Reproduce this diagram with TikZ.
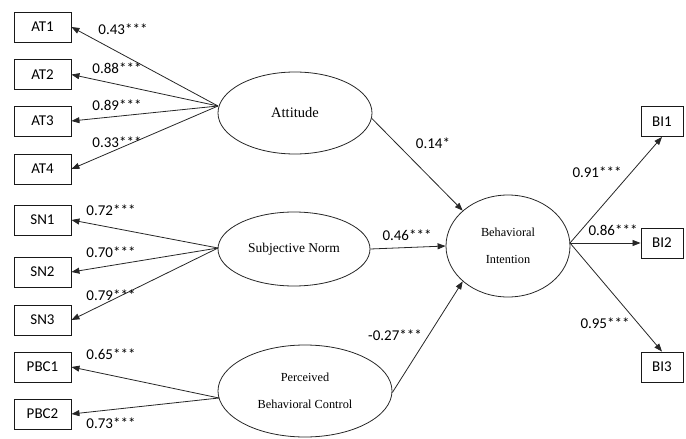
\documentclass[tikz,border=0pt]{standalone}
\usepackage{fontspec}
\setmainfont{Liberation Serif}
\newfontfamily\labelfont{Carlito}
\usetikzlibrary{shapes.geometric,arrows.meta}
\begin{document}
\begin{tikzpicture}[x=1pt,y=-1pt,
  item/.style={draw=black!90,line width=0.9pt,minimum width=57pt,minimum height=30pt,inner sep=0pt,font=\labelfont\fontsize{15}{18}\selectfont},
  bibox/.style={item,minimum width=42pt},
  latent/.style={draw=black!85,line width=0.8pt,ellipse,inner sep=0pt,align=center},
  path/.style={draw=black!85,line width=0.8pt,-{Triangle[length=8pt,width=6pt]}},
  coef/.style={font=\labelfont\fontsize{15}{18}\selectfont,inner sep=0pt}]
\useasboundingbox (0,0) rectangle (686,439);

% observed indicators
\node[item] (AT1) at (42.5,27) {AT1};
\node[item] (AT2) at (42.5,74.5) {AT2};
\node[item] (AT3) at (42.5,121) {AT3};
\node[item] (AT4) at (42.5,169) {AT4};
\node[item] (SN1) at (42.5,220) {SN1};
\node[item] (SN2) at (42.5,272) {SN2};
\node[item] (SN3) at (42.5,320) {SN3};
\node[item] (PBC1) at (42.5,367) {PBC1};
\node[item] (PBC2) at (42.5,414) {PBC2};
\node[bibox] (BI1) at (662,121.5) {BI1};
\node[bibox] (BI2) at (662,243) {BI2};
\node[bibox] (BI3) at (662,367) {BI3};

% latent constructs
\node[latent,minimum width=154pt,minimum height=82pt,font=\fontsize{14.5}{17}\selectfont] (ATT) at (295,113) {Attitude};
\node[latent,minimum width=152pt,minimum height=74pt,font=\fontsize{13.5}{16}\selectfont] (SN) at (294,249) {Subjective Norm};
\node[latent,minimum width=174pt,minimum height=92pt,font=\fontsize{12.3}{15}\selectfont] (PBC) at (305,391) {Perceived\\[12pt]Behavioral Control};
\node[latent,minimum width=124pt,minimum height=102pt,font=\fontsize{12.3}{15}\selectfont] (BI) at (508,246) {Behavioral\\[12pt]Intention};

% loading origins
\coordinate (attL) at (218,106);
\coordinate (snL) at (218,248);
\coordinate (pbcL) at (219,398);
\coordinate (biR) at (570,243);

% measurement paths
\foreach \t in {AT1,AT2,AT3,AT4} \draw[path] (attL) -- (\t.east);
\foreach \t in {SN1,SN2,SN3} \draw[path] (snL) -- (\t.east);
\foreach \t in {PBC1,PBC2} \draw[path] (pbcL) -- (\t.east);
\draw[path] (biR) -- (BI1.south);
\draw[path] (biR) -- (BI2.west);
\draw[path] (biR) -- (BI3.north);

% structural paths
\draw[path] (ATT.-4) -- (BI.142);
\draw[path] (SN.east) -- (BI.west);
\draw[path] (PBC.-1) -- (BI.218);

% coefficients
\node[coef] at (123,29) {0.43***};
\node[coef] at (117,68) {0.88***};
\node[coef] at (117,105) {0.89***};
\node[coef] at (117,142) {0.33***};
\node[coef] at (111,210) {0.72***};
\node[coef] at (111,252) {0.70***};
\node[coef] at (111,295) {0.79***};
\node[coef] at (111,354) {0.65***};
\node[coef] at (111,423) {0.73***};
\node[coef] at (433,143) {0.14*};
\node[coef] at (407,235) {0.46***};
\node[coef] at (395,335) {-0.27***};
\node[coef] at (597,172) {0.91***};
\node[coef] at (613,230) {0.86***};
\node[coef] at (605,323) {0.95***};
\end{tikzpicture}
\end{document}
